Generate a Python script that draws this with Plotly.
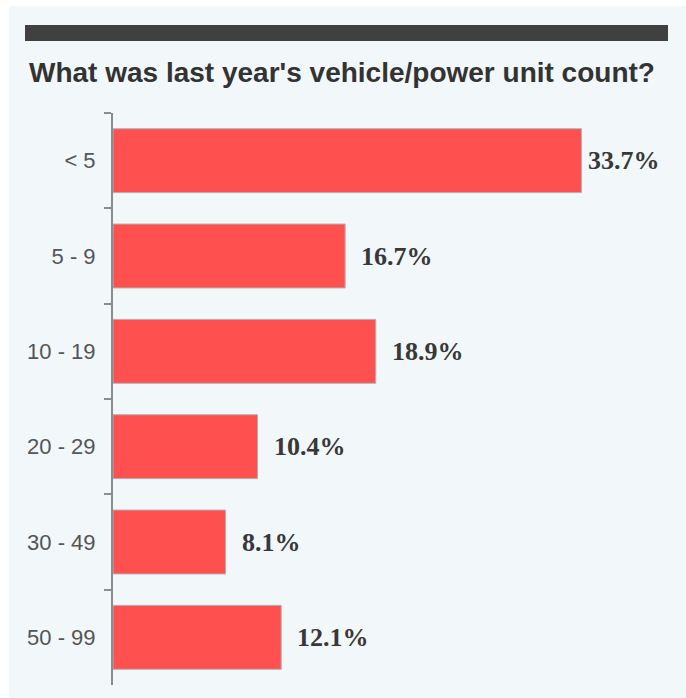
import plotly.graph_objects as go

categories = ["< 5", "5 - 9", "10 - 19", "20 - 29", "30 - 49", "50 - 99"]
values = [33.7, 16.7, 18.9, 10.4, 8.1, 12.1]
labels = [f"{v:.1f}%" for v in values]
title_text = "What was last year's vehicle/power unit count?"

W, H = 686, 698
ML, MR, MT, MB = 113, 17, 113, 13
PW, PH = W - ML - MR, H - MT - MB


def px(x):
    return (x - ML) / PW


def py(y):
    return 1 - (y - MT) / PH


PANEL = "#F2F7FA"

fig = go.Figure()
fig.add_trace(go.Bar(
    x=values, y=categories, orientation="h",
    marker=dict(color="#FF5050", line=dict(color="#B0B0B0", width=1)),
    hoverinfo="skip",
))

vmax = max(values)
for c, v, t in zip(categories, values, labels):
    fig.add_annotation(
        x=v, y=c, xref="x", yref="y", text=f"<b>{t}</b>", showarrow=False,
        xanchor="left", yanchor="middle", xshift=5 if v == vmax else 14,
        font=dict(family="Liberation Serif", size=26, color="#383838"),
    )

fig.add_annotation(
    x=px(27), y=py(72), xref="paper", yref="paper", text=f"<b>{title_text}</b>",
    showarrow=False, xanchor="left", yanchor="middle",
    font=dict(family="Liberation Sans", size=28, color="#333333"),
)

fig.add_shape(type="rect", xref="paper", yref="paper", x0=px(9), x1=px(686), y0=py(6), y1=py(698),
              fillcolor=PANEL, line=dict(width=0), layer="below")
fig.add_shape(type="rect", xref="paper", yref="paper", x0=px(25), x1=px(668), y0=py(25), y1=py(41),
              fillcolor="#404040", line=dict(width=0), layer="below")

fig.update_layout(
    width=W, height=H,
    margin=dict(l=ML, r=MR, t=MT, b=MB),
    paper_bgcolor="white", plot_bgcolor=PANEL,
    bargap=0.33, showlegend=False,
    xaxis=dict(range=[0, 40], visible=False, fixedrange=True),
    yaxis=dict(
        autorange="reversed", type="category",
        showline=True, linecolor="#8C8C8C", linewidth=2,
        ticks="outside", tickson="boundaries", ticklen=7, tickcolor="#8C8C8C", tickwidth=2,
        tickfont=dict(family="Liberation Sans", size=22, color="#555555"),
        showgrid=False, zeroline=False, ticklabelstandoff=11,
    ),
)

fig.write_html("out.html")
